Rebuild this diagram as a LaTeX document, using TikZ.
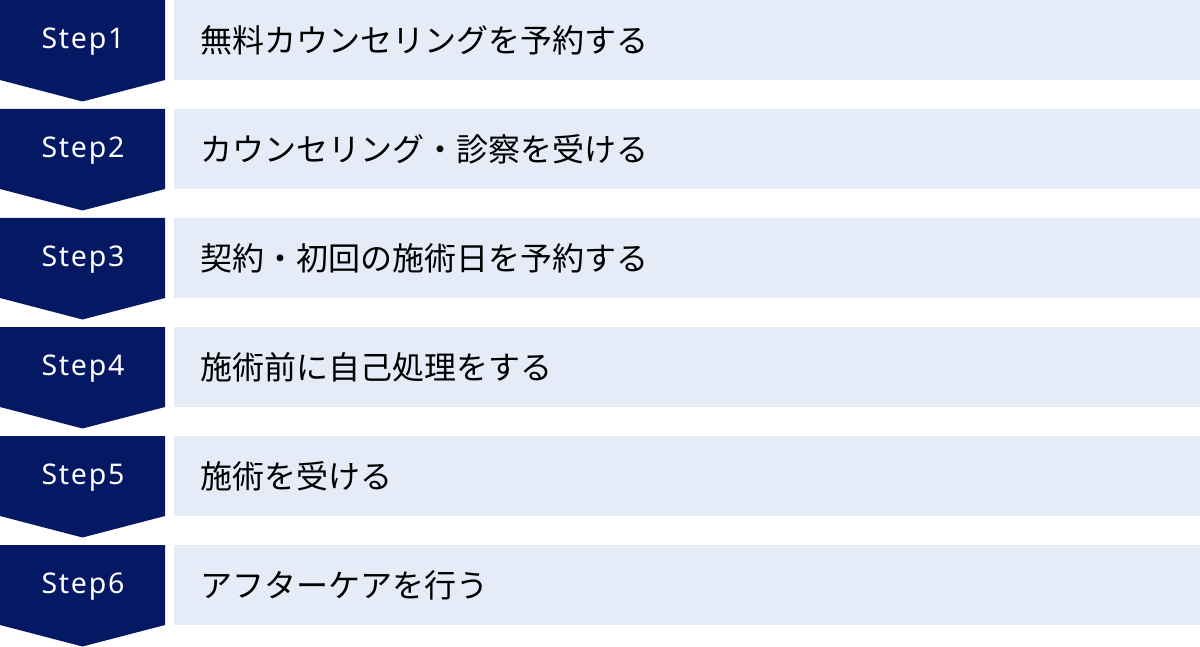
\documentclass[tikz,border=0pt]{standalone}
\usepackage{fontspec}
\setmainfont{Noto Sans}
\newfontfamily\jpfont{Noto Sans CJK JP}
\definecolor{navy}{HTML}{051863}
\definecolor{lightbox}{HTML}{E6EBF8}
\tikzset{
  stepshape/.style={fill=navy, draw=none},
  stepbox/.style={fill=lightbox, draw=none},
  steplabel/.style={text=white, font=\fontsize{28.5}{32}\selectfont\addfontfeature{LetterSpace=6}, anchor=center, inner sep=0pt},
  desclabel/.style={text=black, font=\jpfont\fontsize{32}{38}\selectfont, anchor=west, inner sep=0pt},
}
\begin{document}
\begin{tikzpicture}[x=1pt, y=-1pt]
\useasboundingbox (0,0) rectangle (1200,647);
\foreach \i/\t in {1/無料カウンセリングを予約する, 2/カウンセリング・診察を受ける, 3/契約・初回の施術日を予約する, 4/施術前に自己処理をする, 5/施術を受ける, 6/アフターケアを行う}{
  \pgfmathsetmacro{\top}{(\i-1)*109}
  \path[stepshape] (0,\top) -- (165,\top) -- (165,\top+80) -- (82.5,\top+101.5) -- (0,\top+80) -- cycle;
  \path[stepbox] (174,\top) rectangle (1200,\top+80);
  \node[steplabel] (s\i) at (83,\top+41.5) {Step\i};
  \node[desclabel] (d\i) at (200,\top+40) {\t};
}
\end{tikzpicture}
\end{document}
